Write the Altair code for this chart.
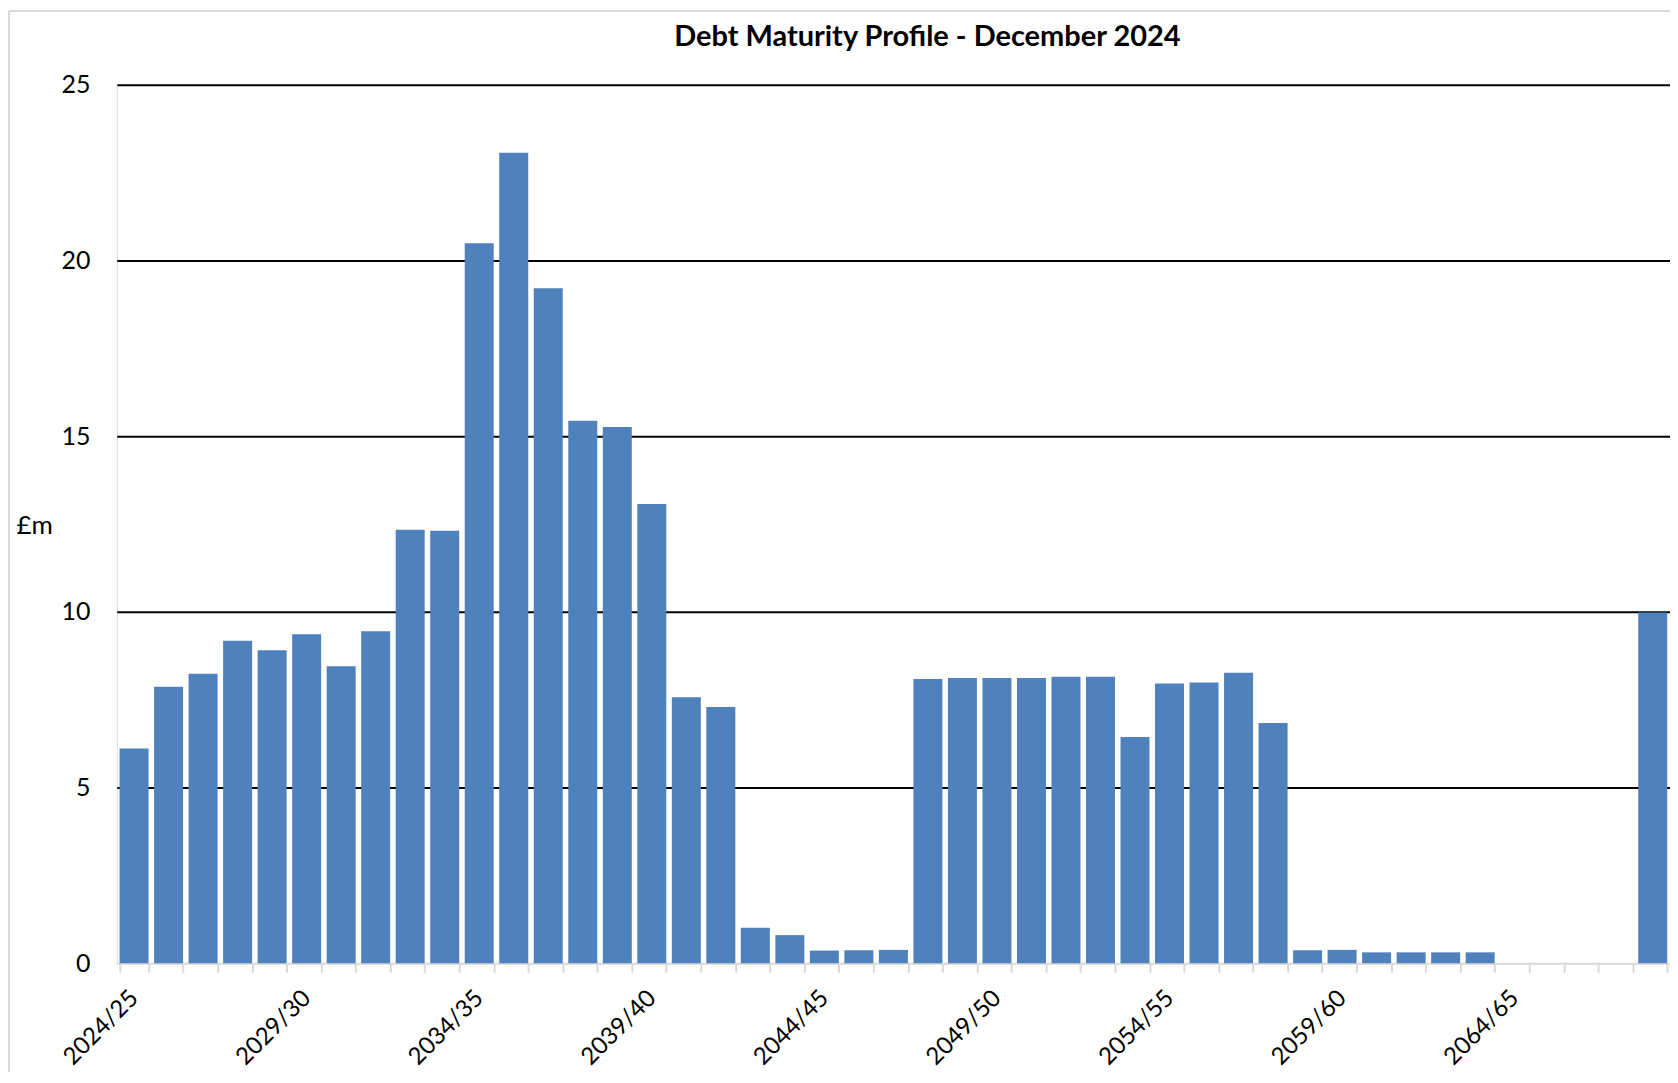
import altair as alt
import pandas as pd

periods = [
    "2024/25", "2025/26", "2026/27", "2027/28", "2028/29",
    "2029/30", "2030/31", "2031/32", "2032/33", "2033/34",
    "2034/35", "2035/36", "2036/37", "2037/38", "2038/39",
    "2039/40", "2040/41", "2041/42", "2042/43", "2043/44",
    "2044/45", "2045/46", "2046/47", "2047/48", "2048/49",
    "2049/50", "2050/51", "2051/52", "2052/53", "2053/54",
    "2054/55", "2055/56", "2056/57", "2057/58", "2058/59",
    "2059/60", "2060/61", "2061/62", "2062/63", "2063/64",
    "2064/65", "2065/66", "2066/67", "2067/68", "2068/69",
]

debt_gbp_m = [
    6.11, 7.87, 8.24, 9.18, 8.91,
    9.36, 8.45, 9.45, 12.34, 12.31,
    20.49, 23.07, 19.21, 15.44, 15.26,
    13.07, 7.57, 7.29, 1.01, 0.80,
    0.36, 0.37, 0.38, 8.09, 8.12,
    8.12, 8.12, 8.15, 8.15, 6.44,
    7.96, 7.99, 8.27, 6.84, 0.37,
    0.38, 0.31, 0.31, 0.31, 0.31,
    0.0, 0.0, 0.0, 0.0, 9.98,
]

y_ticks = [0, 5, 10, 15, 20, 25]
label_every = 5
title_text = "Debt Maturity Profile - December 2024"

df = pd.DataFrame({"period": periods, "value": debt_gbp_m})

FONT = "Lato"

bars = (
    alt.Chart(df)
    .mark_bar(color="#4F81BD")
    .encode(
        x=alt.X(
            "period:N",
            sort=periods,
            scale=alt.Scale(paddingInner=0.16, paddingOuter=0.08),
            axis=alt.Axis(
                title=None,
                labelAngle=-45,
                labelAlign="right",
                labelBaseline="middle",
                labelExpr=f"(toNumber(substring(datum.value,0,4)) - 2024) % {label_every} === 0 ? datum.value : ''",
                labelOverlap=False,
                labelFont=FONT,
                labelFontSize=24,
                labelColor="black",
                labelPadding=22,
                tickBand="extent",
                tickSize=9,
                tickWidth=2,
                tickColor="#d9d9d9",
                domainColor="#d9d9d9",
                domainWidth=2,
                grid=False,
            ),
        ),
        y=alt.Y(
            "value:Q",
            scale=alt.Scale(domain=[0, 25], nice=False),
            axis=alt.Axis(
                values=y_ticks,
                title="£m",
                titleAngle=0,
                titleAlign="left",
                titleBaseline="middle",
                titleX=-101,
                titleY=441,
                titleFont=FONT,
                titleFontSize=26,
                titleFontWeight="normal",
                titleColor="black",
                labelFont=FONT,
                labelFontSize=25,
                labelColor="black",
                labelPadding=27,
                ticks=False,
                tickSize=0,
                domain=False,
                grid=True,
                gridColor="black",
                gridWidth=2,
                gridOpacity={"condition": {"test": "datum.value === 0", "value": 0}, "value": 1},
            ),
        ),
    )
)

one = pd.DataFrame({"k": [0]})

# chart-area border (left and top edges visible in the reference)
border_left = alt.Chart(one).mark_rule(color="#d9d9d9", strokeWidth=2).encode(
    x=alt.value(-108), y=alt.value(-74), y2=alt.value(1000)
)
border_top = alt.Chart(one).mark_rule(color="#d9d9d9", strokeWidth=2).encode(
    x=alt.value(-108), x2=alt.value(1600), y=alt.value(-74)
)

title = (
    alt.Chart(pd.DataFrame({"t": [title_text]}))
    .mark_text(font=FONT, fontSize=29, fontWeight="bold", color="black",
               align="center", baseline="alphabetic")
    .encode(text="t:N", x=alt.value(812), y=alt.value(-39))
)

chart = (
    alt.layer(border_left, border_top, bars, title)
    .properties(
        width=1556,
        height=880,
        autosize=alt.AutoSizeParams(type="none"),
        padding={"left": 109, "top": 76, "right": 0, "bottom": 108},
    )
    .configure_view(stroke=None)
    .configure(background="white")
)

chart.save("out.html", embed_options={"renderer": "svg", "actions": False})
